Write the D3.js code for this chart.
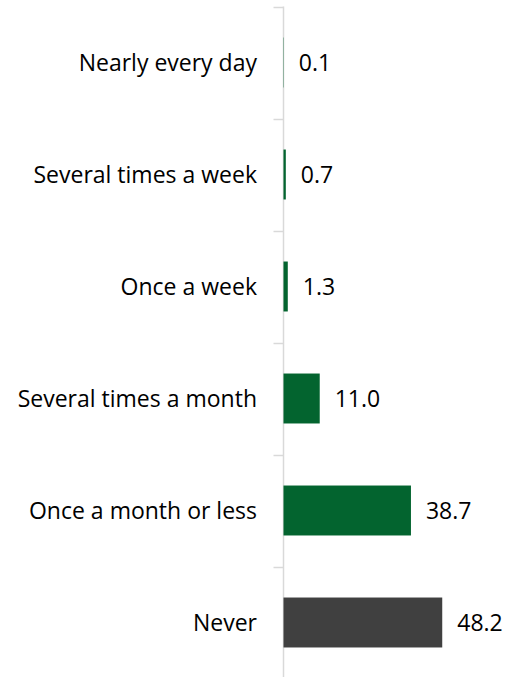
<!DOCTYPE html>
<html>
<head>
<meta charset="utf-8">
<script src="https://cdn.jsdelivr.net/npm/d3@7"></script>
<style>
  html, body { margin: 0; padding: 0; background: #fff; }
  svg { display: block; }
  text { font-variant-ligatures: none; }
</style>
</head>
<body>
<svg id="chart" width="509" height="677"></svg>
<script>
// Frequency categories, top to bottom
const categories = [
  "Nearly every day",
  "Several times a week",
  "Once a week",
  "Several times a month",
  "Once a month or less",
  "Never"
];
// Share of respondents (%)
const values = [0.1, 0.7, 1.3, 11.0, 38.7, 48.2];
// Bar colours: green for any frequency, dark grey for "Never"
const colors = ["#03642f", "#03642f", "#03642f", "#03642f", "#03642f", "#404040"];

const svg = d3.select("#chart");
const fontFamily = "'Open Sans', sans-serif";
const fontSize = 23;

const axisX = 283.5;
const plotTop = 6.5, plotBottom = 678.5;
const x = d3.scaleLinear().domain([0, 60]).range([axisX, axisX + 197.6]);
const y = d3.scaleBand()
  .domain(categories)
  .range([plotTop, plotBottom])
  .paddingInner(0.554)
  .paddingOuter(0.277);

const step = y.step();
const boundaries = d3.range(categories.length + 1).map(i => plotTop + i * step);

// Vertical category axis with boundary ticks
svg.append("line")
  .attr("x1", axisX).attr("x2", axisX)
  .attr("y1", plotTop).attr("y2", 677)
  .attr("stroke", "#d9d9d9").attr("stroke-width", 1.5);
svg.selectAll("line.tick")
  .data(boundaries)
  .join("line")
  .attr("class", "tick")
  .attr("x1", axisX - 10).attr("x2", axisX)
  .attr("y1", d => Math.round(d) + 0.5).attr("y2", d => Math.round(d) + 0.5)
  .attr("stroke", "#d9d9d9").attr("stroke-width", 1.5);

// Bars
const data = categories.map((c, i) => ({ c, v: values[i], col: colors[i] }));
svg.selectAll("rect.bar")
  .data(data)
  .join("rect")
  .attr("class", "bar")
  .attr("x", x(0))
  .attr("y", d => y(d.c))
  .attr("width", d => x(d.v) - x(0))
  .attr("height", y.bandwidth())
  .attr("fill", d => d.col);

// Value labels
svg.selectAll("text.val")
  .data(data)
  .join("text")
  .attr("class", "val")
  .attr("x", d => x(d.v) + 15)
  .attr("y", d => y(d.c) + y.bandwidth() / 2)
  .attr("dy", "0.38em")
  .attr("font-family", fontFamily)
  .attr("font-size", fontSize)
  .attr("fill", "#000")
  .text(d => d.v.toFixed(1));

// Category labels
svg.selectAll("text.cat")
  .data(categories)
  .join("text")
  .attr("class", "cat")
  .attr("x", 257)
  .attr("y", d => y(d) + y.bandwidth() / 2)
  .attr("dy", "0.38em")
  .attr("text-anchor", "end")
  .attr("font-family", fontFamily)
  .attr("font-size", fontSize)
  .attr("fill", "#000")
  .text(d => d);
</script>
</body>
</html>
